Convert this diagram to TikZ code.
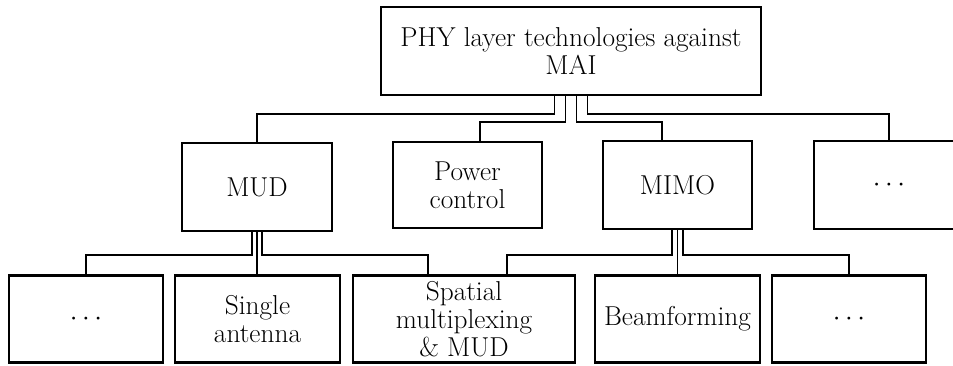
\documentclass[tikz,border=0pt]{standalone}
\usetikzlibrary{calc}
\begin{document}
\begin{tikzpicture}[x=0.75pt,y=-0.75pt,
  box/.style={draw,line width=1.6pt,rectangle,align=center,inner sep=0pt,
    font=\fontsize{20.5}{21}\selectfont},
  link/.style={line width=1pt}]
\useasboundingbox (0,0) rectangle (953,365);

% root
\node[box,minimum width=285pt,minimum height=66pt] (top) at (571,51)
  {PHY layer technologies against\\MAI};

% second level
\node[box,minimum width=112.5pt,minimum height=66pt] (mud) at (257,187) {MUD};
\node[box,minimum width=111.75pt,minimum height=64.5pt] (pc) at (467.5,185) {Power\\control};
\node[box,minimum width=111.75pt,minimum height=66pt] (mimo) at (677.5,185) {MIMO};
\node[box,minimum width=112.5pt,minimum height=66pt] (more) at (889,185) {$\cdots$};

% third level
\node[box,minimum width=115.5pt,minimum height=65.25pt] (b1) at (86,319) {$\cdots$};
\node[box,minimum width=123.75pt,minimum height=65.25pt] (b2) at (257.5,319) {Single\\antenna};
\node[box,minimum width=166.5pt,minimum height=65.25pt] (b3) at (464,319) {Spatial\\multiplexing\\\& MUD};
\node[box,minimum width=123.75pt,minimum height=65.25pt] (b4) at (677.5,319) {Beamforming};
\node[box,minimum width=115.5pt,minimum height=65.25pt] (b5) at (849,319) {$\cdots$};

% root to second level
\draw[link] ($(top.south)+(-16.5,0)$) -- ++(0,18) -| (mud.north);
\draw[link] ($(top.south)+(-5.5,0)$) -- ++(0,26) -| ($(pc.north)+(12.5,0)$);
\draw[link] ($(top.south)+(5.5,0)$) -- ++(0,26) -| ($(mimo.north)+(-15.5,0)$);
\draw[link] ($(top.south)+(16.5,0)$) -- ++(0,18) -| (more.north);

% MUD to its children
\draw[link] ($(mud.south)+(-5,0)$) -- ++(0,23) -| (b1.north);
\draw[link] (mud.south) -- (mud.south |- b2.north);
\draw[link] ($(mud.south)+(5,0)$) -- ++(0,23) -| ($(b3.north)+(-36,0)$);

% MIMO to its children
\draw[link] ($(mimo.south)+(-5.5,0)$) -- ++(0,25) -| ($(b3.north)+(43,0)$);
\draw[link] (mimo.south) -- (mimo.south |- b4.north);
\draw[link] ($(mimo.south)+(5.5,0)$) -- ++(0,25) -| (b5.north);
\end{tikzpicture}
\end{document}
